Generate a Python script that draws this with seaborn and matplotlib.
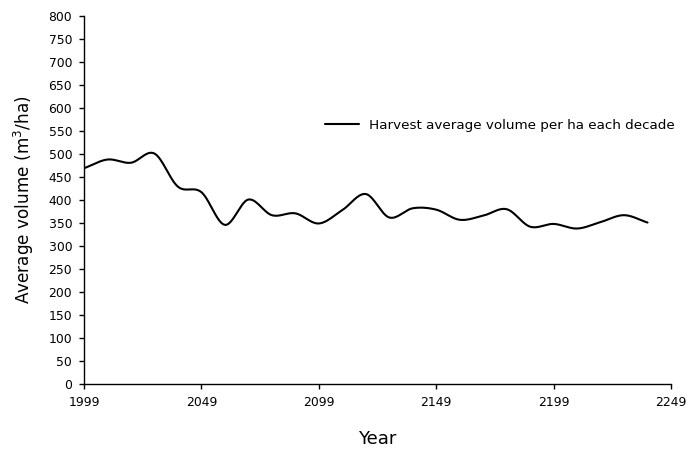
import numpy as np
import pandas as pd
import matplotlib
matplotlib.use("Agg")
import matplotlib.pyplot as plt
import seaborn as sns

# Harvest average volume per hectare, one value per decade
years = [1999, 2009, 2019, 2029, 2039, 2049, 2059, 2069, 2079, 2089,
         2099, 2109, 2119, 2129, 2139, 2149, 2159, 2169, 2179, 2189,
         2199, 2209, 2219, 2229, 2239]
volume = [469, 488, 481, 501, 429, 417, 346, 401, 367, 371,
          349, 378, 413, 362, 382, 379, 357, 366, 380, 342,
          348, 338, 352, 367, 351]

x_ticks = [1999, 2049, 2099, 2149, 2199, 2249]
y_ticks = list(range(0, 801, 50))

series_label = "Harvest average volume per ha each decade"


def smooth_curve(xs, ys, steps=30):
    """Catmull-Rom spline through the decade values (smoothed line)."""
    xs = np.asarray(xs, float)
    ys = np.asarray(ys, float)
    px = np.concatenate([[2 * xs[0] - xs[1]], xs, [2 * xs[-1] - xs[-2]]])
    py = np.concatenate([[2 * ys[0] - ys[1]], ys, [2 * ys[-1] - ys[-2]]])
    out_x, out_y = [], []
    t = np.linspace(0, 1, steps, endpoint=False)
    for i in range(1, len(px) - 2):
        for arr, out in ((px, out_x), (py, out_y)):
            p0, p1, p2, p3 = arr[i - 1], arr[i], arr[i + 1], arr[i + 2]
            seg = 0.5 * ((2 * p1) + (-p0 + p2) * t
                         + (2 * p0 - 5 * p1 + 4 * p2 - p3) * t ** 2
                         + (-p0 + 3 * p1 - 3 * p2 + p3) * t ** 3)
            out.extend(seg)
    out_x.append(xs[-1])
    out_y.append(ys[-1])
    return np.array(out_x), np.array(out_y)


sx, sy = smooth_curve(years, volume)
curve = pd.DataFrame({"Year": sx, "Volume": sy})

sns.set_theme(style="ticks")
plt.rcParams["font.family"] = ["DejaVu Sans"]
plt.rcParams["text.color"] = "black"

fig = plt.figure(figsize=(6.88, 4.53), dpi=100)
ax = fig.add_axes([84 / 688, 69 / 453, 587 / 688, 368 / 453])

sns.lineplot(data=curve, x="Year", y="Volume", ax=ax, color="black",
             linewidth=1.5, estimator=None, sort=False, label=series_label)

ax.set_xlim(1999, 2249)
ax.set_ylim(0, 800)
ax.set_xticks(x_ticks)
ax.set_yticks(y_ticks)
ax.tick_params(axis="both", direction="out", length=3.5, width=1,
               colors="black", labelsize=8.9)
ax.tick_params(axis="y", pad=5)
ax.tick_params(axis="x", pad=5)
for side in ("top", "right"):
    ax.spines[side].set_visible(False)
for side in ("left", "bottom"):
    ax.spines[side].set_color("black")
    ax.spines[side].set_linewidth(1)

ax.set_xlabel("Year", fontsize=13, color="black", labelpad=15)
ax.set_ylabel("Average volume (m$^3$/ha)", fontsize=12.2, color="black",
              labelpad=9)

ax.legend(loc="center left", bbox_to_anchor=(325 / 688, 328 / 453),
          bbox_transform=fig.transFigure, frameon=False, fontsize=9.7,
          handlelength=2.5, handletextpad=0.75, borderpad=0,
          borderaxespad=0, labelcolor="black")

fig.savefig("out.png", dpi=100)
